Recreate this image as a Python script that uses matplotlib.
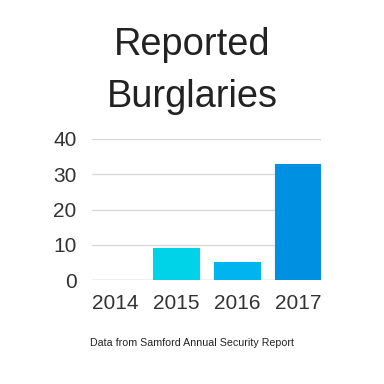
import matplotlib.pyplot as plt

years = ['2014', '2015', '2016', '2017']
burglaries = [0, 9, 5, 33]
bar_colors = ['#00d2e8', '#00d2e8', '#00b4f0', '#0090e2']
y_ticks = [0, 10, 20, 30, 40]

plt.rcParams['font.family'] = ['Liberation Sans', 'DejaVu Sans']

fig = plt.figure(figsize=(3.84, 3.84), dpi=100)
ax = fig.add_axes([92 / 384, 1 - 280 / 384, 229 / 384, 141 / 384])

x = list(range(len(years)))
edges = [c if v > 0 else 'none' for c, v in zip(bar_colors, burglaries)]
ax.bar(x, burglaries, width=0.754, color=bar_colors, edgecolor=edges,
       linewidth=0.8, joinstyle='round', zorder=3)

ax.set_xlim(-0.377, len(years) - 1 + 0.377)
ax.set_ylim(0, 40)
ax.set_yticks(y_ticks)
ax.set_xticks(x)
ax.set_xticklabels(years)
ax.grid(axis='y', color='#d9d9d9', linewidth=1, zorder=0)
ax.tick_params(length=0, labelsize=15, colors='#333333')
ax.tick_params(axis='y', pad=11)
ax.tick_params(axis='x', pad=10)
for s in ax.spines.values():
    s.set_visible(False)
ax.axhline(0, color='#cccccc', linewidth=1, zorder=2)

fig.text(0.5, 1 - 45 / 384, 'Reported', ha='center', va='center', fontsize=27.4, color='#222222')
fig.text(0.5, 1 - 97 / 384, 'Burglaries', ha='center', va='center', fontsize=27.4, color='#222222')
fig.text(0.5, 1 - 343 / 384, 'Data from Samford Annual Security Report', ha='center', va='center',
         fontsize=7.7, color='#222222')

fig.savefig('out.png', dpi=100, facecolor='white')
